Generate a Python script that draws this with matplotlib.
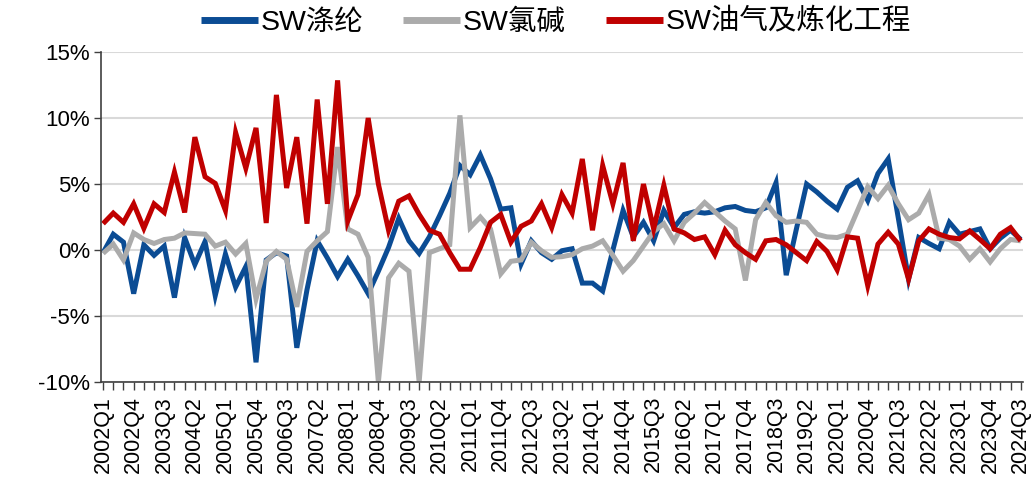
import numpy as np
import matplotlib.pyplot as plt

plt.rcParams['font.family'] = ['Liberation Sans', 'Noto Sans CJK SC', 'DejaVu Sans']

# quarterly categories 2002Q1 .. 2024Q3
quarters = [f"{y}Q{q}" for y in range(2002, 2025) for q in range(1, 5)][:91]

# SW涤纶 (%)
polyester = [-0.2, 1.2, 0.6, -3.3, 0.4, -0.4, 0.3, -3.6, 0.95, -1.1,
             0.65, -3.45, -0.3, -2.8, -1.25, -8.5, -0.75, -0.2, -0.45, -7.4,
             -3.0, 0.7, -0.6, -2.0, -0.7, -1.95, -3.3, -1.6, 0.2, 2.4,
             0.7, -0.25, 1.0, 2.6, 4.3, 6.4, 5.7, 7.2, 5.4, 3.1,
             3.2, -1.05, 0.7, -0.2, -0.7, -0.05, 0.1, -2.5, -2.5, -3.1,
             0.0, 3.0, 1.0, 2.1, 0.7, 3.0, 1.7, 2.7, 2.9, 2.8,
             2.9, 3.2, 3.3, 3.0, 2.9, 3.2, 5.1, -1.9, 1.6, 5.0,
             4.4, 3.7, 3.1, 4.75, 5.25, 3.75, 5.8, 6.9, 2.4, -2.2,
             0.95, 0.5, 0.1, 2.1, 1.2, 1.4, 1.6, 0.1, 0.9, 1.5,
             0.8]

# SW氯碱 (%)
chlor_alkali = [-0.25, 0.45, -0.75, 1.3, 0.8, 0.5, 0.8, 0.9, 1.3, 1.25,
                1.2, 0.3, 0.6, -0.3, 0.5, -3.7, -0.85, -0.1, -0.7, -4.3,
                -0.1, 0.7, 1.4, 7.8, 1.6, 1.2, -0.55, -10.0, -2.1, -1.0,
                -1.6, -10.0, -0.2, 0.1, 0.4, 10.2, 1.7, 2.5, 1.6, -1.8,
                -0.85, -0.75, 0.6, -0.05, -0.55, -0.5, -0.35, 0.1, 0.3, 0.7,
                -0.4, -1.6, -0.8, 0.3, 1.4, 2.0, 0.7, 2.1, 2.8, 3.6,
                2.9, 2.2, 1.6, -2.3, 2.3, 3.6, 2.6, 2.1, 2.2, 2.1,
                1.2, 1.0, 0.95, 1.2, 3.0, 4.8, 3.9, 4.9, 3.5, 2.3,
                2.8, 4.2, 0.9, 0.8, 0.3, -0.7, 0.1, -0.9, 0.1, 0.8,
                0.7]

# SW油气及炼化工程 (%)
oil_refining = [2.0, 2.8, 2.1, 3.5, 1.65, 3.5, 2.85, 5.9, 2.85, 8.55,
                5.55, 5.05, 3.0, 8.9, 6.2, 9.25, 2.05, 11.75, 4.7, 8.55,
                2.0, 11.4, 3.5, 12.85, 2.2, 4.2, 10.0, 5.0, 1.5, 3.7,
                4.1, 2.7, 1.5, 1.2, -0.2, -1.45, -1.45, 0.2, 2.1, 2.7,
                0.6, 1.8, 2.2, 3.5, 1.7, 4.2, 2.8, 6.9, 1.5, 6.4,
                3.5, 6.6, 0.7, 5.0, 1.6, 4.9, 1.6, 1.3, 0.8, 1.0,
                -0.35, 1.5, 0.4, -0.2, -0.7, 0.7, 0.8, 0.4, -0.2, -0.8,
                0.65, -0.1, -1.5, 1.0, 0.9, -2.7, 0.45, 1.35, 0.45, -2.2,
                0.7, 1.6, 1.2, 0.95, 0.85, 1.45, 0.8, 0.1, 1.2, 1.7,
                0.7]

names = ['SW涤纶', 'SW氯碱', 'SW油气及炼化工程']
colors = ['#0B4C94', '#ABABAB', '#C00000']

fig = plt.figure(figsize=(10.31, 4.95), dpi=100)
ax = fig.add_axes([0.098, 0.228, 0.894, 0.667])

x = np.arange(len(quarters))
for vals, name, c in zip([polyester, chlor_alkali, oil_refining], names, colors):
    ax.plot(x, np.array(vals) / 100, color=c, lw=3.6, label=name,
            solid_joinstyle='miter', solid_capstyle='butt')

ax.set_xlim(-0.2, len(quarters) - 0.8)
ax.set_ylim(-0.10, 0.15)
ax.set_yticks(np.arange(-0.10, 0.151, 0.05))
ax.set_yticklabels(['-10%', '-5%', '0%', '5%', '10%', '15%'], fontsize=16)
ax.set_xticks(x[::3])
ax.set_xticklabels(quarters[::3], rotation=90, fontsize=15.5)
ax.set_xticks(x, minor=True)
ax.tick_params(axis='x', which='both', direction='out', length=6, width=1, color='#404040', pad=4)
ax.tick_params(axis='y', direction='out', length=5, width=1, color='#404040', pad=3)

ax.grid(axis='y', color='#D9D9D9', lw=1.5)
ax.set_axisbelow(True)
for s in ['top', 'right']:
    ax.spines[s].set_visible(False)
ax.spines['left'].set_color('#404040')
ax.spines['bottom'].set_color('#404040')
ax.spines['left'].set_linewidth(1.2)
ax.spines['bottom'].set_linewidth(1.2)

leg = fig.legend(loc='center', bbox_to_anchor=(0.539, 0.955), ncol=3, frameon=False,
                 prop={'family': ['Liberation Sans', 'Noto Sans CJK SC'], 'size': 20.5},
                 handlelength=2.0, handletextpad=0.1, columnspacing=1.4)
for h in leg.get_lines():
    h.set_linewidth(5)

fig.savefig('out.png', dpi=100)
